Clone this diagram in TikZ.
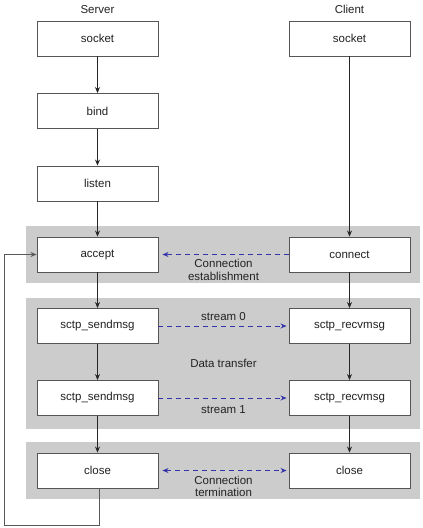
\documentclass[tikz,border=0pt]{standalone}
\usepackage{fontspec}
\setmainfont{Liberation Sans}
\usetikzlibrary{arrows.meta}
\definecolor{bandgray}{HTML}{CCCCCC}
\definecolor{boxline}{HTML}{555555}
\definecolor{dashblue}{HTML}{3333AA}
\definecolor{txt}{HTML}{222222}
\begin{document}
\begin{tikzpicture}[x=1pt,y=-1pt,
  every node/.style={font=\fontsize{11.5}{12.5}\selectfont, text=txt},
  box/.style={draw=boxline, line width=0.9pt, fill=white, minimum width=121pt, minimum height=35pt, inner sep=0pt},
  band/.style={fill=bandgray, draw=none},
  flow/.style={draw=black!85, line width=0.8pt, -{Stealth[length=6pt,width=5pt]}},
  msg/.style={draw=dashblue, line width=1pt, dash pattern=on 5pt off 4pt, -{Stealth[length=6pt,width=5pt]}},
  msgboth/.style={draw=dashblue, line width=1pt, dash pattern=on 5pt off 4pt, {Stealth[length=6pt,width=5pt]}-{Stealth[length=6pt,width=5pt]}},
  loopline/.style={draw=black!65, line width=1pt, -{Stealth[length=6pt,width=5pt]}},
  lbl/.style={align=center, inner sep=0pt, font=\fontsize{11.5}{12.5}\selectfont}
]
\useasboundingbox (0,0) rectangle (423,528);
% bands
\fill[band] (26,226) rectangle (420,283);
\fill[band] (26,298) rectangle (420,429);
\fill[band] (26,442) rectangle (420,499);

% headers
\node[lbl] (hs) at (97.5,9.5) {Server};
\node[lbl] (hc) at (349.5,9.5) {Client};

% server column
\node[box] (s1) at (97.5,38.5) {socket};
\node[box] (s2) at (97.5,111) {bind};
\node[box] (s3) at (97.5,183.5) {listen};
\node[box] (s4) at (97.5,254.5) {accept};
\node[box] (s5) at (97.5,326) {sctp\_sendmsg};
\node[box] (s6) at (97.5,398) {sctp\_sendmsg};
\node[box] (s7) at (97.5,470.5) {close};

% client column
\node[box] (c1) at (349.5,38.5) {socket};
\node[box] (c4) at (349.5,254.5) {connect};
\node[box] (c5) at (349.5,326) {sctp\_recvmsg};
\node[box] (c6) at (349.5,398) {sctp\_recvmsg};
\node[box] (c7) at (349.5,470.5) {close};

% flow arrows
\draw[flow] (s1) -- (s2);
\draw[flow] (s2) -- (s3);
\draw[flow] (s3) -- (s4);
\draw[flow] (s4) -- (s5);
\draw[flow] (s5) -- (s6);
\draw[flow] (s6) -- (s7);
\draw[flow] (c1) -- (c4);
\draw[flow] (c4) -- (c5);
\draw[flow] (c5) -- (c6);
\draw[flow] (c6) -- (c7);

% messages
\draw[msg, shorten >=4pt] (c4.west) -- (s4.east);
\draw[msg, shorten >=2pt] (s5.east) -- (c5.west);
\draw[msg, shorten >=2pt] (s6.east) -- (c6.west);
\draw[msgboth, shorten >=2pt, shorten <=4pt] (s7.east) -- (c7.west);

% labels
\node[lbl] (l1) at (223.5,270) {Connection\\establishment};
\node[lbl] (l2) at (223.5,316.5) {stream 0};
\node[lbl] (l3) at (223.5,363) {Data transfer};
\node[lbl] (l4) at (223.5,410) {stream 1};
\node[lbl] (l5) at (223.5,486.5) {Connection\\termination};

% loop back
\coordinate (lb) at (4,525);
\draw[loopline] ([xshift=1.5pt]s7.south) |- (lb) |- (s4.west);
\end{tikzpicture}
\end{document}
